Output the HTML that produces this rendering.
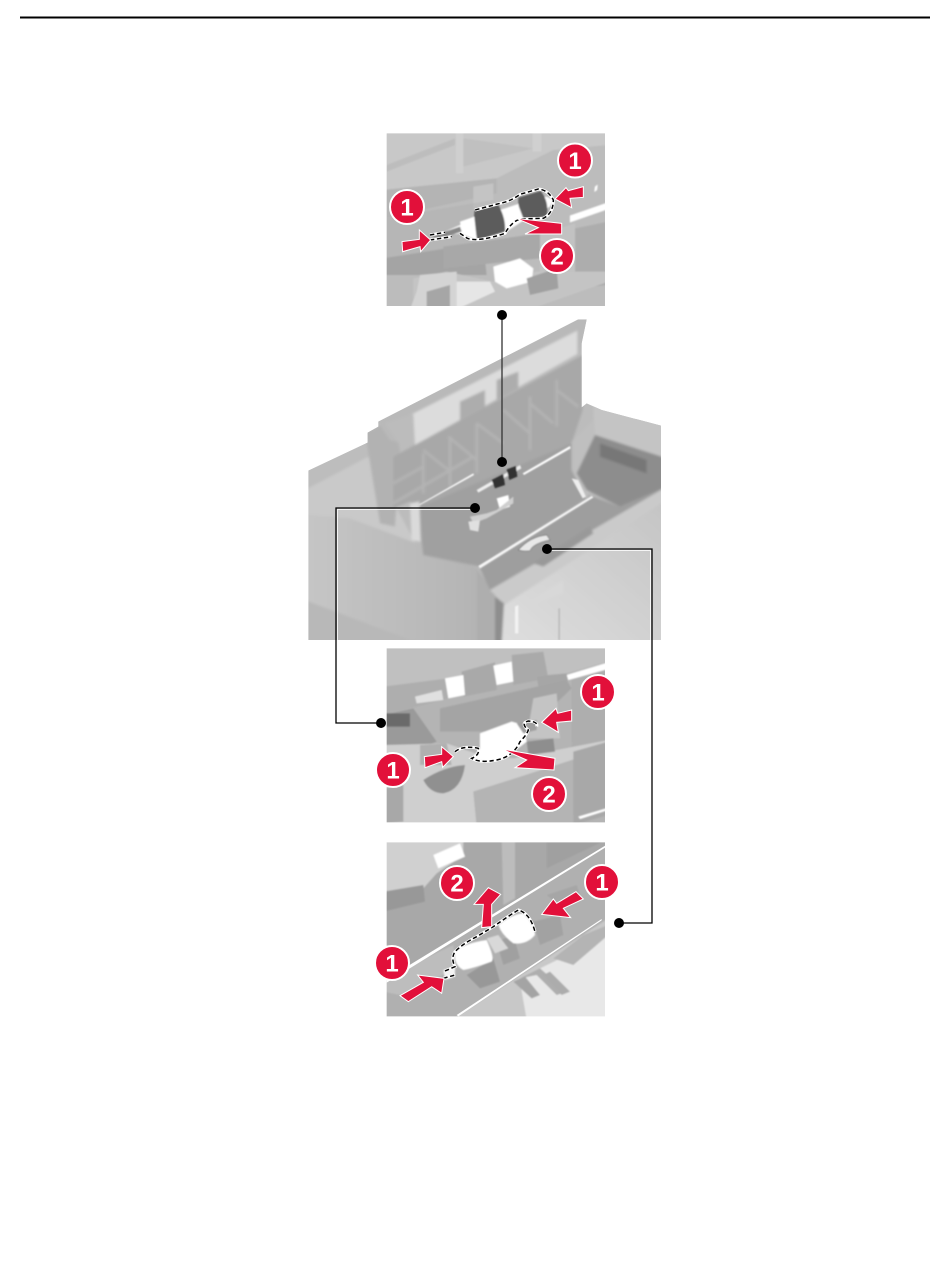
<!DOCTYPE html>
<html><head><meta charset="utf-8"><style>
html,body{margin:0;padding:0;background:#fff;width:950px;height:1276px;overflow:hidden}
svg{display:block}
text{font-family:"Liberation Sans",sans-serif;font-weight:bold;fill:#fff;text-anchor:middle}
</style></head><body>
<svg width="950" height="1276" viewBox="0 0 950 1276" xmlns="http://www.w3.org/2000/svg">
<defs>
<filter id="b" x="-5%" y="-5%" width="110%" height="110%"><feGaussianBlur stdDeviation="4"/></filter>
<filter id="s" x="-5%" y="-5%" width="110%" height="110%"><feGaussianBlur stdDeviation="2"/></filter>
<clipPath id="c1"><rect x="20" y="25" width="655" height="518"/></clipPath>
<clipPath id="c3"><rect x="20" y="10" width="655" height="522"/></clipPath>
<clipPath id="c4"><rect x="20" y="22" width="655" height="522"/></clipPath>
<clipPath id="c2"><path d="M25,482 L203,398 L203,368 L235,350 L235,335 L835,28 L860,28 L845,100 L845,292 L860,280 L905,300 L1083,347 V990 H25Z"/></clipPath>
<linearGradient id="gf" x1="0" y1="0" x2="1" y2="0"><stop offset="0" stop-color="#c6c6c6"/><stop offset="1" stop-color="#b4b4b4"/></linearGradient>
<linearGradient id="gr" x1="0" y1="1" x2="1" y2="0"><stop offset="0" stop-color="#dedede"/><stop offset="1" stop-color="#c4c4c4"/></linearGradient>
</defs>
<rect width="950" height="1276" fill="#fff"/>
<rect x="20" y="16.500" width="910" height="2" fill="#000"/>

<!-- PANEL 1 -->
<g transform="translate(380,125) scale(.33333)"><g clip-path="url(#c1)">
<g filter="url(#s)">
<rect x="10" y="15" width="675" height="538" fill="#bcbcbc"/>
<polygon points="10,15 685,15 685,60 520,75 350,160 10,195" fill="#c8c8c8"/>
<polygon points="250,40 460,70 250,125" fill="#c0c0c0"/>
<polygon points="20,120 225,40 225,60 20,140" fill="#bdbdbd"/>
<rect x="228" y="15" width="22" height="130" fill="#cfcfcf"/>
<rect x="458" y="20" width="26" height="60" fill="#d0d0d0"/>
<polygon points="10,195 350,160 350,205 10,280" fill="#b4b4b4"/>
<polygon points="280,185 340,175 340,225 280,235" fill="#c4c4c4"/>
<polygon points="570,272 685,232 685,252 570,292" fill="#fff"/>
<polygon points="585,310 685,290 685,480 585,490" fill="#adadad"/>
<polygon points="480,330 585,295 585,440 480,440" fill="#c2c2c2"/>
<polygon points="10,280 280,235 280,380 10,420" fill="#b6b6b6"/>
<polygon points="10,400 200,370 310,360 320,450 120,450 10,450" fill="#a4a4a4"/>
<polygon points="190,365 480,325 480,400 190,430" fill="#a8a8a8"/>
<polygon points="100,460 200,440 340,470 470,440 685,440 685,470 450,553 100,553" fill="#c4c4c4"/>
<polygon points="120,450 230,440 230,553 90,553 110,500" fill="#d4d4d4"/>
<polygon points="230,470 330,470 345,500 230,553" fill="#e6e6e6"/>
<polygon points="340,425 420,400 460,430 455,470 380,490 345,470" fill="#fff"/>
<polygon points="440,460 530,430 535,490 450,510" fill="#a0a0a0"/>
<polygon points="140,500 210,480 210,553 140,553" fill="#a6a6a6"/>
<path d="M645,185 l8,-6 l-2,16 l-8,6z" fill="#fff"/>
</g>
<g filter="url(#s)">
<polygon points="160,335 240,300 290,275 375,250 420,235 500,215 520,225 510,245 440,280 380,320 290,345 240,325" fill="#fff"/>
<path d="M283,258 L355,240 Q378,280 375,320 L292,345 Q278,300 283,258Z" fill="#5c5c5c"/>
<path d="M415,218 L482,198 Q508,230 500,272 L432,287 Q412,250 415,218Z" fill="#5c5c5c"/>
<polygon points="373,255 415,240 430,280 380,300" fill="#fff"/>
<polygon points="240,290 283,275 290,340 245,325" fill="#fff"/>
<polygon points="160,332 240,305 245,320 165,345" fill="#888"/>
</g>
<path d="M150,330 L195,322 M150,345 L215,335 M240,325 L262,340 Q295,352 375,325 Q395,290 420,282 L490,280 Q520,265 520,225 Q505,195 475,192 L420,208 Q390,230 360,235 L285,255" fill="none" stroke="#fff" stroke-width="9"/>
<path d="M150,330 L195,322 M150,345 L215,335 M240,325 L262,340 Q295,352 375,325 Q395,290 420,282 L490,280 Q520,265 520,225 Q505,195 475,192 L420,208 Q390,230 360,235 L285,255" fill="none" stroke="#000" stroke-width="4.500" stroke-dasharray="13 8"/>
</g></g>
<g transform="translate(380,125) scale(.33333)" fill="#e2103a" stroke="#fff" stroke-width="3">
<polygon points="610,185 610,217 570,220 575,248 525,222 558,188 565,197"/>
<polygon points="66,350 118,343 118,315 152,345 122,380 120,365 68,380"/>
<polygon points="408,280 545,295 545,327 435,327 475,308"/>
</g>
<g stroke="#fff" stroke-width="2" fill="#e2103a"><circle cx="575" cy="160.500" r="17"/><circle cx="407" cy="207" r="17"/><circle cx="557" cy="256" r="17"/></g>
<text x="575" y="169" font-size="24">1</text><text x="407" y="215.500" font-size="24">1</text><text x="557" y="264.500" font-size="24">2</text>

<!-- MAIN -->
<g transform="translate(300,310) scale(.33333)"><g clip-path="url(#c2)">
<rect x="0" y="0" width="1100" height="1000" fill="#bcbcbc"/>
<g filter="url(#b)">
<polygon points="0,490 205,390 205,440 0,548" fill="#bdbdbd"/>
<polygon points="0,548 205,440 380,760 0,640" fill="#c9c9c9"/>
<polygon points="0,612 150,625 350,700 535,775 535,1000 0,1000" fill="url(#gf)"/>
<polygon points="0,865 360,1000 0,1000" fill="#b8b8b8"/>
<polygon points="530,775 585,850 585,1000 530,1000" fill="#aeaeae"/>
<polygon points="195,368 280,330 300,420 285,650 240,640" fill="#b2b2b2"/>
<polygon points="230,330 840,20 870,25 835,135 345,410 270,390" fill="#b9b9b9"/>
<polygon points="325,318 832,62 832,132 345,405" fill="#dcdcdc"/>
<polygon points="255,340 340,312 345,405 300,405" fill="#bcbcbc"/>
<polygon points="480,275 555,240 555,300 480,335" fill="#adadad"/>
<polygon points="590,210 655,185 655,235 590,270" fill="#adadad"/>
<polygon points="280,440 848,135 848,300 815,400 870,560 540,770 370,735 355,640 330,575 280,595" fill="#a8a8a8"/>
<polygon points="360,590 815,400 870,560 540,770 370,735" fill="#a0a0a0"/>
<g stroke="#b4b4b4" stroke-width="8" fill="none"><path d="M280,520 L370,470 M280,580 L520,440 M370,420 L445,480 M445,380 L530,450 M530,340 L610,400 M690,280 L760,340 M770,240 L835,290 M610,300 L690,370 M450,380 V530 M530,340 V490 M690,260 V420 M770,210 V350 M370,430 V550"/></g>
<polygon points="330,580 358,575 362,695 335,690" fill="#dadada"/>
<polygon points="815,395 880,330 885,500 860,570 815,480" fill="#bfbfbf"/>
<polygon points="880,285 1100,345 1100,520 885,400" fill="#c4c4c4"/>
<polygon points="885,375 1100,445 1100,530 960,590 860,540 830,490" fill="#8d8d8d"/>
<polygon points="900,400 1040,450 1040,490 900,440" fill="#777"/>
<polygon points="540,775 880,560 960,590 1100,530 610,850 570,840" fill="#9e9e9e"/>
<polygon points="570,840 1100,530 1100,570 615,885 590,860" fill="#cacaca"/>
<polygon points="700,760 870,650 880,670 730,770" fill="#999"/>
<polygon points="605,890 1100,570 1100,1000 605,1000" fill="url(#gr)"/>
<polygon points="585,860 612,880 605,1000 585,1000" fill="#8e8e8e"/>
<polygon points="690,870 790,810 790,850 690,890" fill="#d8d8d8"/>
</g>
<g filter="url(#s)">
<polygon points="355,585 520,490 522,495 360,585" fill="#fff"/>
<polygon points="668,490 810,408 812,415 672,495" fill="#fff"/>
<polygon points="535,768 875,558 880,562 540,775" fill="#f6f6f6"/>
<polygon points="815,505 835,510 858,560 848,565" fill="#eee"/>
<polygon points="645,890 655,885 655,970 645,970" fill="#f3f3f3"/>
<polygon points="775,895 780,895 780,990 775,990" fill="#bbb"/>
<polygon points="530,540 660,465 664,475 535,548" fill="#eee"/>
<polygon points="575,510 610,492 615,525 585,535" fill="#333"/>
<polygon points="620,478 648,468 652,500 628,510" fill="#333"/>
<polygon points="590,565 625,555 630,590 600,600" fill="#fff"/>
<polygon points="510,620 560,610 590,600 640,560 640,580 560,625 520,640" fill="#cfcfcf"/>
<polygon points="505,635 540,630 535,665 510,660" fill="#e0e0e0"/>
<path d="M655,720 Q690,680 740,675 L750,690 Q700,700 690,722 Q670,725 655,720Z" fill="#e8e8e8" stroke="#777" stroke-width="2"/>
</g></g></g>

<!-- PANEL 3 -->
<g transform="translate(380,645) scale(.33333)"><g clip-path="url(#c3)"><g filter="url(#s)">
<rect x="10" y="0" width="675" height="542" fill="#b4b4b4"/>
<polygon points="10,0 685,0 685,50 560,85 10,125" fill="#c0c0c0"/>
<polygon points="10,125 245,95 245,150 90,190 10,210" fill="#aeaeae"/>
<polygon points="245,80 345,52 350,135 250,155" fill="#a9a9a9"/>
<polygon points="395,30 490,20 505,100 400,120" fill="#aaa"/>
<polygon points="340,62 395,50 400,110 350,120" fill="#fff"/>
<polygon points="195,100 250,90 255,150 205,160" fill="#fff"/>
<polygon points="560,90 685,52 685,72 565,105" fill="#fff"/>
<polygon points="470,95 560,85 565,125 480,150" fill="#a6a6a6"/>
<polygon points="180,190 560,105 575,130 450,250 300,260 180,260" fill="#a4a4a4"/>
<polygon points="105,155 185,135 190,165 110,175" fill="#e0e0e0"/>
<polygon points="10,210 100,190 170,290 120,310 10,300" fill="#9a9a9a"/>
<rect x="10" y="205" width="80" height="40" fill="#6a6a6a"/>
<polygon points="460,160 530,145 540,280 440,280" fill="#c4c4c4"/>
<polygon points="575,105 685,72 685,290 575,320" fill="#aeaeae"/>
<polygon points="10,300 200,295 300,330 400,340 685,285 685,310 375,410 280,440 290,542 10,542" fill="#cfcfcf"/>
<polygon points="375,410 685,310 685,500 600,542 290,542 280,440" fill="#b4b4b4"/>
<polygon points="580,320 685,290 685,510 580,540" fill="#a8a8a8"/>
<polygon points="120,300 200,295 215,360 120,360" fill="#b0b0b0"/>
<path d="M130,405 Q190,365 255,360 Q245,435 190,445 Q150,445 130,405Z" fill="#909090"/>
<polygon points="10,430 70,420 70,530 10,535" fill="#a8a8a8"/>
<polygon points="440,290 520,280 525,320 445,330" fill="#8e8e8e"/>
<polygon points="300,265 395,230 430,240 440,290 375,340 320,350 275,340 300,310" fill="#fff"/>
<polygon points="410,235 470,225 470,255 430,265" fill="#a0a0a0"/>
<polygon points="595,515 685,488 685,495 600,522" fill="#fff"/>
</g>
<path d="M225,320 Q250,300 295,310 Q300,330 275,340 Q300,355 350,345 Q400,335 420,290 Q440,270 445,255 Q420,235 445,228 Q475,230 470,245" fill="none" stroke="#fff" stroke-width="9"/>
<path d="M225,320 Q250,300 295,310 Q300,330 275,340 Q300,355 350,345 Q400,335 420,290 Q440,270 445,255 Q420,235 445,228 Q475,230 470,245" fill="none" stroke="#000" stroke-width="4.500" stroke-dasharray="13 8"/>
</g></g>
<g transform="translate(380,645) scale(.33333)" fill="#e2103a" stroke="#fff" stroke-width="3">
<polygon points="575,195 575,228 530,232 535,262 485,232 528,190 533,205"/>
<polygon points="133,335 185,328 185,305 220,335 188,367 185,350 135,368"/>
<polygon points="365,312 525,340 522,375 405,368 440,345"/>
</g>
<g stroke="#fff" stroke-width="2" fill="#e2103a"><circle cx="598" cy="692" r="17"/><circle cx="393" cy="770" r="17"/><circle cx="549" cy="794" r="17"/></g>
<text x="598" y="700.500" font-size="24">1</text><text x="393" y="778.500" font-size="24">1</text><text x="549" y="802.500" font-size="24">2</text>

<!-- PANEL 4 -->
<g transform="translate(380,835) scale(.33333)"><g clip-path="url(#c4)"><g filter="url(#s)">
<rect x="10" y="12" width="675" height="542" fill="#a8a8a8"/>
<polygon points="10,12 250,12 250,60 170,115 130,160 60,170 10,200" fill="#d0d0d0"/>
<polygon points="160,60 240,25 255,65 175,100" fill="#fff"/>
<polygon points="10,170 130,150 135,200 10,230" fill="#989898"/>
<polygon points="365,12 405,12 405,190 370,210" fill="#bcbcbc"/>
<polygon points="500,12 685,12 500,100" fill="#a0a0a0"/>
<polygon points="10,440 685,28 685,260 230,554 10,554" fill="#b0b0b0"/>
<polygon points="10,430 220,330 230,400 60,480 10,470" fill="#bdbdbd"/>
<polygon points="500,180 590,150 600,180 530,205" fill="#a6a6a6"/>
<polygon points="230,545 685,250 685,554 230,554" fill="#c8c8c8"/>
<polygon points="480,400 685,300 685,554 440,554 420,440" fill="#e8e8e8"/>
<polygon points="520,370 610,300 685,270 685,300 580,390" fill="#b4b4b4"/>
<polygon points="420,430 480,400 560,470 530,480 470,420" fill="#aeaeae"/>
<polygon points="490,420 510,410 570,470 545,480" fill="#acacac"/>
<polygon points="400,440 435,425 480,480 455,490" fill="#a4a4a4"/>
<polygon points="260,420 340,370 360,440 300,460" fill="#989898"/>
<polygon points="350,320 400,300 420,370 370,390" fill="#a0a0a0"/>
<polygon points="460,260 540,240 550,300 480,330" fill="#a2a2a2"/>
</g>
<polygon points="10,438 685,26 685,32 15,446" fill="#fff"/>
<polygon points="230,540 665,252 665,256 235,544" fill="#fff"/>
<g filter="url(#s)">
<path d="M225,350 Q250,325 320,315 Q345,370 335,380 Q280,400 250,405 Q220,390 225,350Z" fill="#fff"/>
<polygon points="320,310 355,300 385,340 345,355" fill="#d8d8d8"/>
<path d="M355,270 Q400,235 430,235 Q465,270 465,300 Q440,330 400,325 Q365,300 355,270Z" fill="#fff"/>
<polygon points="190,405 225,395 225,425 195,435" fill="#f4f4f4"/>
</g>
<path d="M190,430 L225,420 M195,408 L225,395 Q212,370 225,350 Q250,325 290,305 L340,275 Q390,240 415,225 Q450,235 465,290" fill="none" stroke="#fff" stroke-width="9"/>
<path d="M190,430 L225,420 M195,408 L225,395 Q212,370 225,350 Q250,325 290,305 L340,275 Q390,240 415,225 Q450,235 465,290" fill="none" stroke="#000" stroke-width="4.500" stroke-dasharray="13 8"/>
</g></g>
<g transform="translate(380,835) scale(.33333)" fill="#e2103a" stroke="#fff" stroke-width="3">
<polygon points="588,170 610,192 550,220 572,248 485,238 520,192 530,205"/>
<polygon points="60,482 130,442 113,420 192,430 185,475 155,455 85,500"/>
<polygon points="305,278 310,208 282,208 325,158 362,178 335,208 335,275"/>
</g>
<g stroke="#fff" stroke-width="2" fill="#e2103a"><circle cx="457" cy="883" r="17"/><circle cx="602" cy="882" r="17"/><circle cx="392" cy="963" r="17"/></g>
<text x="457" y="891.500" font-size="24">2</text><text x="602" y="890.500" font-size="24">1</text><text x="392" y="971.500" font-size="24">1</text>

<!-- CONNECTORS -->
<g fill="none" stroke="#000" stroke-width="1.300">
<path d="M502,315 V462" stroke="#333"/>
<path d="M475,508 H336 V723 H381"/>
<path d="M547,549 H652 V923 H619"/>
</g>
<g fill="none" stroke="#fff" stroke-width="1" opacity=".8"><path d="M475,509.500 H337.500 V640"/><path d="M547,550.500 H650.500 V640"/></g>
<g fill="#000"><circle cx="502" cy="315" r="5"/><circle cx="502" cy="462" r="5"/><circle cx="475" cy="508" r="5"/><circle cx="381" cy="723" r="5"/><circle cx="547" cy="549" r="5"/><circle cx="619" cy="923" r="5"/></g>
</svg>
</body></html>
